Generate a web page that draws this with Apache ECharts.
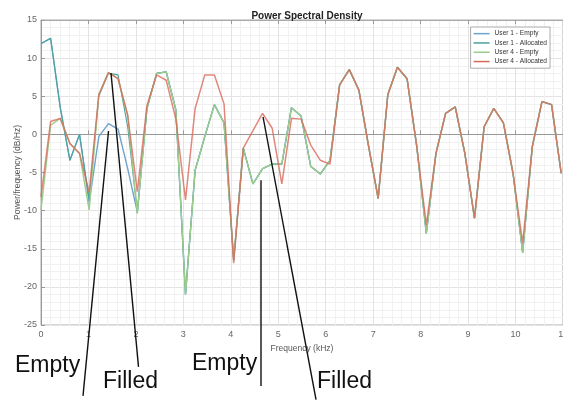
<!DOCTYPE html>
<html>
<head>
<meta charset="utf-8">
<script src="https://cdn.jsdelivr.net/npm/echarts@6.0.0/dist/echarts.min.js"></script>
<style>
html,body{margin:0;padding:0;background:#fff;}
#chart{width:563px;height:402px;}
</style>
</head>
<body>
<div id="chart"></div>
<script>
// Frequency bins (kHz)
var freqs = [0, 0.203, 0.406, 0.609, 0.812, 1.015, 1.218, 1.421, 1.624, 1.827, 2.03, 2.233, 2.436, 2.639, 2.842, 3.045, 3.248, 3.451, 3.654, 3.857, 4.06, 4.263, 4.466, 4.669, 4.872, 5.075, 5.278, 5.481, 5.684, 5.887, 6.09, 6.293, 6.496, 6.699, 6.902, 7.105, 7.308, 7.511, 7.714, 7.917, 8.12, 8.323, 8.526, 8.729, 8.932, 9.135, 9.338, 9.541, 9.744, 9.947, 10.15, 10.353, 10.556, 10.759, 10.962];

var user1Empty = [11.9, 12.6, 3.5, -3.4, 0.0, -9.0, -0.3, 1.4, 0.7, -4.5, -10.2, 3.4, 8.0, 8.2, 3.2, -21.0, -4.7, -0.3, 3.9, 1.5, -16.5, -1.8, -6.5, -4.5, -3.9, -3.9, 3.5, 2.4, -4.2, -5.2, -3.4, 6.5, 8.5, 5.8, -1.5, -8.4, 5.2, 8.8, 7.3, -1.5, -13.0, -2.5, 2.75, 3.6, -2.5, -11.0, 1.0, 3.4, 1.5, -5.1, -15.5, -1.6, 4.3, 3.9, -5.1];

var user1Allocated = [11.9, 12.6, 3.5, -3.4, 0.0, -8.5, 5.0, 8.0, 7.8, 1.0, -10.2, 3.4, 8.0, 8.2, 3.2, -21.0, -4.7, -0.3, 3.9, 1.5, -16.5, -1.8, -6.5, -4.5, -3.9, -3.9, 3.5, 2.4, -4.2, -5.2, -3.4, 6.5, 8.5, 5.8, -1.5, -8.4, 5.2, 8.8, 7.3, -1.5, -13.0, -2.5, 2.75, 3.6, -2.5, -11.0, 1.0, 3.4, 1.5, -5.1, -15.5, -1.6, 4.3, 3.9, -5.1];

var user4Empty = [-9.9, 1.2, 2.1, -1.2, -2.5, -9.9, 5.2, 8.1, 7.3, 2.5, -10.4, 3.4, 8.0, 8.2, 3.2, -21.0, -4.7, -0.3, 3.9, 1.5, -16.5, -1.8, -6.5, -4.5, -3.9, -3.9, 3.5, 2.4, -4.2, -5.2, -3.4, 6.5, 8.5, 5.8, -1.5, -8.4, 5.2, 8.8, 7.3, -1.5, -13.0, -2.5, 2.75, 3.6, -2.5, -11.0, 1.0, 3.4, 1.5, -5.1, -15.5, -1.6, 4.3, 3.9, -5.1];

var user4Allocated = [-8.2, 1.7, 2.1, -1.2, -2.5, -7.6, 5.2, 8.1, 7.3, 2.5, -7.5, 3.8, 7.8, 7.1, 2.0, -8.6, 3.4, 7.8, 7.8, 4.0, -16.9, -1.8, 0.5, 2.75, 0.8, -6.5, 2.1, 2.0, -1.4, -3.4, -3.9, 6.5, 8.5, 5.8, -1.5, -8.4, 5.2, 8.8, 7.3, -1.5, -11.9, -2.5, 2.75, 3.6, -2.5, -11.0, 1.0, 3.4, 1.5, -5.1, -14.3, -1.6, 4.3, 3.9, -5.1];

var seriesNames = ['User 1 - Empty', 'User 1 - Allocated', 'User 4 - Empty', 'User 4 - Allocated'];
var xTicks = [0, 1, 2, 3, 4, 5, 6, 7, 8, 9, 10, 11];
var yTicks = [-25, -20, -15, -10, -5, 0, 5, 10, 15];

// Hand-drawn annotations (data coordinates: kHz, dB/Hz)
var annoLines = [
  [[1.423, 0.45], [0.885, -34.3]],
  [[1.475, 8.05], [2.055, -30.5]],
  [[4.636, -6.0], [4.636, -33.0]],
  [[4.679, 2.28], [5.796, -34.8]]
];
var annoTexts = [
  {text: 'Empty', x: 15, y: 366},
  {text: 'Filled', x: 103, y: 382},
  {text: 'Empty', x: 192, y: 364},
  {text: 'Filled', x: 317, y: 382}
];

function pairs(vals) {
  return vals.map(function (v, i) { return [freqs[i], v]; });
}

var colors = ['#6fa3cc', '#4aa39c', '#9ccc8c', '#d86a5a'];
var widths = [1.4, 1.1, 1.4, 1.5];
var opac = [1, 1, 1, 0.8];
var allData = [user1Empty, user1Allocated, user4Empty, user4Allocated];

var chart = echarts.init(document.getElementById('chart'), null, {renderer: 'canvas'});

var option = {
  backgroundColor: '#fff',
  animation: false,
  title: {
    text: 'Power Spectral Density',
    left: 302, top: 6, textAlign: 'center',
    textStyle: {fontFamily: 'Liberation Sans', fontSize: 10, fontWeight: 'bold', color: '#222'}
  },
  legend: {
    orient: 'vertical',
    right: 13, top: 27,
    icon: 'rect',
    itemWidth: 16, itemHeight: 1.5, itemGap: 2,
    padding: [3, 3, 3, 3],
    borderColor: '#aaa', borderWidth: 1,
    backgroundColor: '#fff',
    textStyle: {fontFamily: 'Liberation Sans', fontSize: 6.6, lineHeight: 7.3, color: '#333'},
    data: seriesNames
  },
  grid: {
    left: 41, right: 0, top: 20, bottom: 77,
    outerBoundsMode: 'none',
    containLabel: false,
    show: true, borderColor: '#aaa', borderWidth: 1, backgroundColor: 'transparent'
  },
  xAxis: [{
    type: 'value', min: xTicks[0], max: xTicks[xTicks.length - 1], interval: 1,
    name: 'Frequency (kHz)', nameLocation: 'middle', nameGap: 19,
    nameTextStyle: {fontFamily: 'Liberation Sans', fontSize: 8.5, color: '#555'},
    axisLine: {lineStyle: {color: '#999'}},
    axisTick: {inside: true, length: 4, lineStyle: {color: '#999'}},
    axisLabel: {fontFamily: 'Liberation Sans', fontSize: 9, color: '#666', margin: 5, showMaxLabel: true, hideOverlap: false},
    splitLine: {show: true, lineStyle: {color: '#e3e3e3', width: 1}},
    minorTick: {show: false, splitNumber: 5},
    minorSplitLine: {show: true, lineStyle: {color: '#f1f1f1', width: 1}}
  }, {
    type: 'value', position: 'top', min: xTicks[0], max: xTicks[xTicks.length - 1], interval: 1,
    axisLine: {show: true, lineStyle: {color: '#aaa'}},
    axisTick: {show: true, inside: true, length: 4, lineStyle: {color: '#999'}},
    axisLabel: {show: false},
    splitLine: {show: false}
  }],
  yAxis: {
    type: 'value', min: yTicks[0], max: yTicks[yTicks.length - 1], interval: 5,
    name: 'Power/frequency (dB/Hz)', nameLocation: 'middle', nameGap: 19,
    nameMoveOverlap: false,
    nameTextStyle: {fontFamily: 'Liberation Sans', fontSize: 8.5, color: '#555'},
    axisLine: {show: true, lineStyle: {color: '#999'}},
    axisTick: {show: true, inside: true, length: 4, lineStyle: {color: '#999'}},
    axisLabel: {fontFamily: 'Liberation Sans', fontSize: 9, color: '#666', margin: 4},
    splitLine: {show: true, lineStyle: {color: '#e3e3e3', width: 1}},
    minorTick: {show: false, splitNumber: 5},
    minorSplitLine: {show: true, lineStyle: {color: '#f1f1f1', width: 1}}
  },
  series: seriesNames.map(function (n, k) {
    return {
      name: n, type: 'line', data: pairs(allData[k]), xAxisIndex: 0,
      symbol: 'none', showSymbol: false, smooth: false,
      lineStyle: {color: colors[k], width: widths[k], opacity: opac[k]},
      itemStyle: {color: colors[k]},
      z: 2 + k
    };
  })
};
chart.setOption(option);

var gfx = [];
annoLines.forEach(function (ln) {
  var p1 = chart.convertToPixel({gridIndex: 0}, ln[0]);
  var p2 = chart.convertToPixel({gridIndex: 0}, ln[1]);
  gfx.push({
    type: 'line', z: 100,
    shape: {x1: p1[0], y1: p1[1], x2: p2[0], y2: p2[1]},
    style: {stroke: '#111', lineWidth: 1.4}
  });
});
annoTexts.forEach(function (t) {
  gfx.push({
    type: 'text', z: 100, x: t.x, y: t.y,
    style: {text: t.text, fill: '#111', font: '23px "Liberation Sans"', verticalAlign: 'middle', align: 'left'}
  });
});
chart.setOption({graphic: gfx});
</script>
</body>
</html>
